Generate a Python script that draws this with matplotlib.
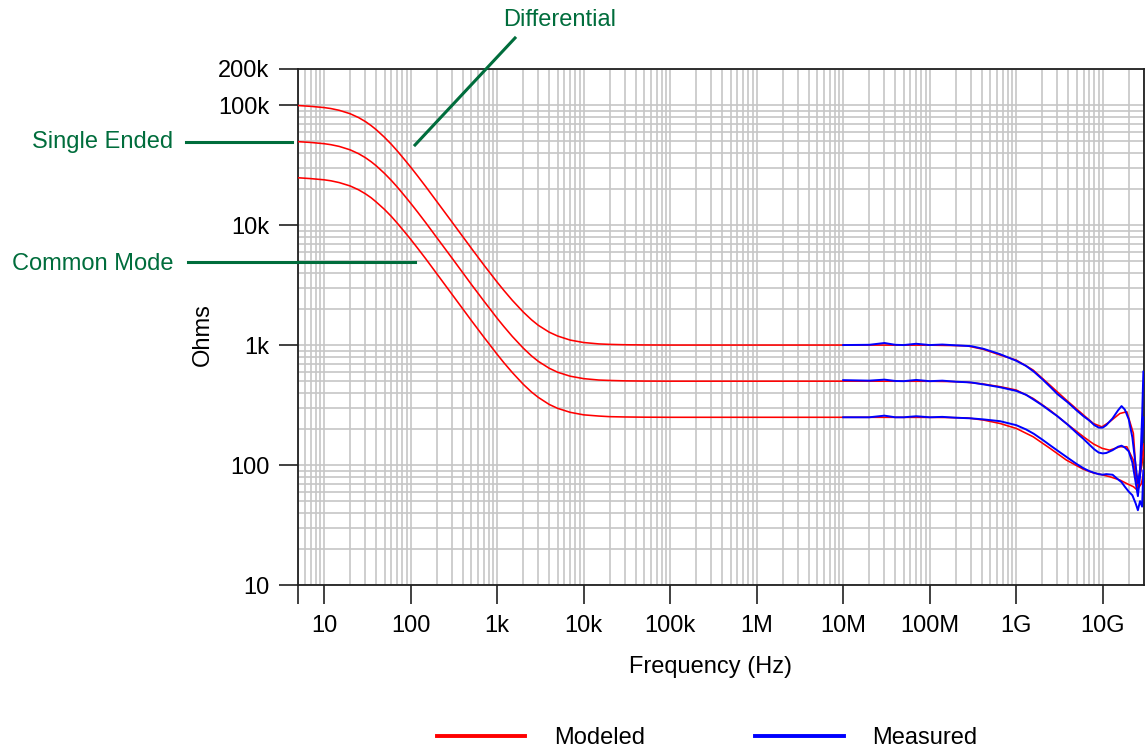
import matplotlib
matplotlib.use("Agg")
import matplotlib.pyplot as plt
from matplotlib.ticker import FixedLocator, LogLocator, NullFormatter
from matplotlib.lines import Line2D
import numpy as np

plt.rcParams['font.family'] = ['Liberation Sans', 'DejaVu Sans']

# ---------------- data ----------------
model_freq = [5, 7, 10, 12, 15, 20, 25, 30, 35, 40, 50, 60, 70, 85, 100, 120, 150,
              200, 300, 500, 700, 1e3, 1.2e3, 1.5e3, 2e3, 2.5e3, 3e3, 4e3, 5e3,
              7e3, 1e4, 1.5e4, 2e4, 3e4, 5e4, 1e5, 1e6, 1e7, 1e8, 1.5e8, 2e8,
              2.7e8, 4.2e8, 6.5e8, 1e9, 1.57e9, 2.45e9, 3.8e9, 6e9, 7.8e9, 9.8e9,
              1.2e10, 1.58e10, 1.9e10, 2.26e10, 2.5e10, 2.8e10, 3e10]

model_diff = [99200, 97700, 95400, 93600, 90500, 84800, 78800, 73000, 67500, 62500,
              53900, 47100, 41600, 35200, 30500, 25800, 20900,
              15800, 10650, 6460, 4670, 3350, 2850, 2360, 1890, 1624, 1460, 1281,
              1190, 1100, 1050, 1022, 1013, 1006, 1002, 1000, 1000, 1000, 998,
              993, 990, 985, 920, 826, 750, 619, 464, 348, 261, 222, 208,
              229, 269, 278, 184, 64, 110, 150]

model_se = [49600, 48850, 47700, 46800, 45250, 42400, 39400, 36500, 33750, 31250,
            26950, 23550, 20800, 17600, 15250, 12900, 10450,
            7900, 5330, 3230, 2340, 1675, 1425, 1180, 945, 812, 731, 641,
            594, 550, 525, 511, 507, 503, 501, 500, 500, 500, 499,
            497, 495, 490, 473, 450, 422, 359, 287, 222, 172, 150, 138,
            133, 142, 142, 110, 64, 95, 130]

model_cm = [24800, 24400, 23850, 23400, 22600, 21200, 19700, 18250, 16900, 15600,
            13500, 11800, 10400, 8800, 7630, 6450, 5230,
            3950, 2660, 1615, 1170, 838, 712, 590, 472, 406, 366, 320,
            297, 275, 262, 256, 253, 251.5, 250.5, 250, 250, 250, 249.5,
            249, 248, 247, 237, 222, 202, 172, 138, 110, 92, 86, 83,
            80, 75, 70, 66, 62, 70, 90]

meas_freq = [1e7, 2e7, 3e7, 4e7, 5e7, 7e7, 1e8, 1.4e8, 2e8, 3e8, 4.2e8, 6.5e8,
             1e9, 1.3e9, 1.6e9, 2e9, 2.5e9, 3e9, 4e9, 5e9, 6e9, 7e9, 8e9, 9e9,
             1e10, 1.1e10, 1.3e10, 1.5e10, 1.65e10, 1.8e10, 2.0e10, 2.2e10,
             2.4e10, 2.55e10, 2.7e10, 2.85e10, 2.95e10]

meas_diff = [1000, 1005, 1040, 1005, 1000, 1025, 1000, 1010, 995, 980, 930, 840,
             740, 670, 600, 520, 445, 390, 330, 285, 255, 235, 215, 205,
             205, 215, 245, 285, 310, 290, 240, 170,
             100, 70, 90, 250, 600]

meas_se = [510, 505, 515, 502, 500, 512, 500, 505, 495, 488, 470, 445,
           415, 385, 350, 315, 280, 255, 215, 185, 165, 148, 135, 127,
           125, 126, 133, 142, 145, 140, 130, 105,
           72, 55, 80, 150, 250]

meas_cm = [250, 250, 258, 250, 250, 255, 250, 252, 248, 245, 240, 232,
           215, 198, 182, 163, 145, 132, 114, 102, 94, 89, 86, 84,
           83, 84, 83, 76, 72, 66, 60, 56,
           48, 42, 50, 45, 90]

x_ticks = [5, 10, 100, 1e3, 1e4, 1e5, 1e6, 1e7, 1e8, 1e9, 1e10]
x_labels = ['', '10', '100', '1k', '10k', '100k', '1M', '10M', '100M', '1G', '10G']
y_ticks = [10, 100, 1e3, 1e4, 1e5, 2e5]
y_labels = ['10', '100', '1k', '10k', '100k', '200k']

# ---------------- figure ----------------
W, H = 1146, 753
FS = 17
fig = plt.figure(figsize=(W / 100, H / 100), dpi=100)
ax = fig.add_axes([298 / W, 1 - 585 / H, (1144 - 298) / W, (585 - 69) / H])

RED = '#ff0000'
BLUE = '#0000ff'
GREEN = '#006d3c'

l_mod = None
for vals in (model_diff, model_se, model_cm):
    l_mod, = ax.plot(model_freq, vals, color=RED, lw=1.15, zorder=3)
l_meas = None
for vals in (meas_diff, meas_se, meas_cm):
    l_meas, = ax.plot(meas_freq, vals, color=BLUE, lw=1.4, zorder=4)

ax.set_xscale('log')
ax.set_yscale('log')
ax.set_xlim(5, 3e10)
ax.set_ylim(10, 2e5)

ax.xaxis.set_major_locator(FixedLocator(x_ticks))
ax.set_xticklabels(x_labels)
ax.yaxis.set_major_locator(FixedLocator(y_ticks))
ax.set_yticklabels(y_labels)
ax.xaxis.set_minor_locator(LogLocator(base=10, subs=np.arange(2, 10), numticks=100))
ax.yaxis.set_minor_locator(LogLocator(base=10, subs=np.arange(2, 10), numticks=100))
ax.xaxis.set_minor_formatter(NullFormatter())
ax.yaxis.set_minor_formatter(NullFormatter())

ax.grid(which='both', color='#c6c6c6', lw=1.2, zorder=0)
ax.set_axisbelow(True)

ax.tick_params(which='major', direction='out', length=13.5, width=1.2,
               labelsize=FS, color='#202020')
ax.tick_params(axis='x', which='major', pad=8)
ax.tick_params(axis='y', which='major', pad=7)
ax.tick_params(which='minor', length=0)
for s in ax.spines.values():
    s.set_color('#202020')
    s.set_linewidth(1.3)

ax.set_xlabel('Frequency (Hz)', fontsize=FS)
ax.xaxis.label.set_verticalalignment('center')
ax.xaxis.set_label_coords((710.5 - 298) / 846, (585 - 667) / 516)
ax.set_ylabel('Ohms', fontsize=FS)
ax.yaxis.label.set_verticalalignment('center')
ax.yaxis.set_label_coords((203 - 298) / 846, (585 - 335) / 516)

# ---------------- annotations ----------------
def fx(px):
    return px / W

def fy(py):
    return 1 - py / H

fig.text(fx(559.5), fy(20), 'Differential', color=GREEN, fontsize=FS,
         ha='center', va='center')
fig.text(fx(173), fy(142), 'Single Ended', color=GREEN, fontsize=FS,
         ha='right', va='center')
fig.text(fx(173), fy(264), 'Common Mode', color=GREEN, fontsize=FS,
         ha='right', va='center')

for (x0, y0, x1, y1) in [(515, 38, 415, 145), (186, 142, 292, 142), (188, 262, 415, 262)]:
    fig.add_artist(Line2D([fx(x0), fx(x1)], [fy(y0), fy(y1)], color=GREEN,
                          lw=2.2, transform=fig.transFigure, zorder=5))

# ---------------- legend ----------------
leg = fig.legend([l_mod, l_meas], ['Modeled', 'Measured'], loc='center',
                 bbox_to_anchor=(fx(707.5), fy(738)), ncol=2, frameon=False,
                 fontsize=FS, handlelength=3.73, handletextpad=1.23,
                 columnspacing=4.66)
for h in leg.legend_handles:
    h.set_linewidth(2.8)

fig.savefig('out.png', dpi=100)
